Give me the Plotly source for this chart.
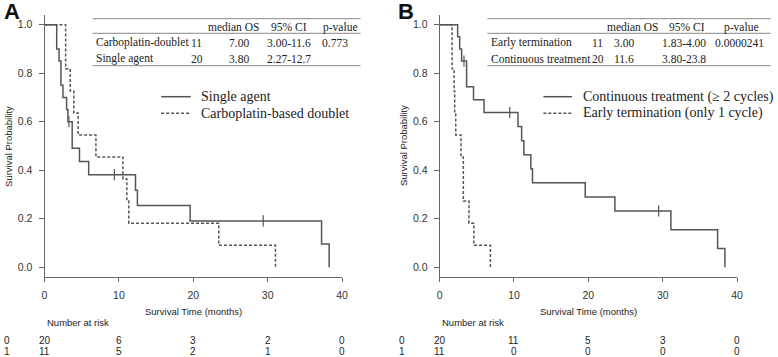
import numpy as np
import plotly.graph_objects as go

# ---------------- data ----------------
# Panel A: Single agent (n=20) vs Carboplatin-based doublet (n=11)
a_single_t = [0, 1.64, 1.95, 2.21, 2.48, 2.97, 3.15, 3.72, 4.70, 5.94, 12.23, 12.49, 19.58, 37.25, 38.27]
a_single_s = [1.0, 0.90, 0.85, 0.75, 0.70, 0.65, 0.60, 0.491, 0.436, 0.382, 0.318, 0.255, 0.191, 0.096, 0.0]
a_single_cens = [3.28, 9.39, 29.4]

a_doublet_t = [0, 2.84, 3.46, 3.94, 4.52, 6.91, 10.54, 11.07, 11.33, 23.43, 31.05]
a_doublet_s = [1.0, 0.818, 0.727, 0.636, 0.545, 0.455, 0.364, 0.273, 0.182, 0.091, 0.0]

# Panel B: Continuous treatment (n=20) vs Early termination (n=11)
b_cont_t = [0, 2.43, 2.70, 2.96, 3.63, 4.56, 5.98, 10.54, 11.03, 11.33, 12.27, 12.49, 19.58, 23.57, 31.10, 37.38, 38.36]
b_cont_s = [1.0, 0.95, 0.90, 0.85, 0.744, 0.691, 0.638, 0.580, 0.522, 0.464, 0.406, 0.348, 0.290, 0.232, 0.155, 0.077, 0.0]
b_cont_cens = [3.28, 9.43, 29.45]

b_early_t = [0, 1.68, 1.95, 2.03, 2.17, 2.88, 3.19, 3.95, 4.61, 6.83]
b_early_s = [1.0, 0.818, 0.727, 0.636, 0.545, 0.455, 0.273, 0.182, 0.091, 0.0]

risk_times = [0, 10, 20, 30, 40]
a_risk_0 = [20, 6, 3, 2, 0]
a_risk_1 = [11, 5, 2, 1, 0]
b_risk_0 = [20, 11, 5, 3, 0]
b_risk_1 = [11, 0, 0, 0, 0]

x_ticks = [0, 10, 20, 30, 40]
y_ticks = [0.0, 0.2, 0.4, 0.6, 0.8, 1.0]
y_ticklabels = ["0.0", "0.2", "0.4", "0.6", "0.8", "1.0"]

table_a_header = ["median OS", "95% CI", "p-value"]
table_a_rows = [["Carboplatin-doublet", "11", "7.00", "3.00-11.6", "0.773"],
                ["Single agent", "20", "3.80", "2.27-12.7", ""]]
table_b_header = ["median OS", "95% CI", "p-value"]
table_b_rows = [["Early termination", "11", "3.00", "1.83-4.00", "0.0000241"],
                ["Continuous treatment", "20", "11.6", "3.80-23.8", ""]]

legend_a = ["Single agent", "Carboplatin-based doublet"]
legend_b = ["Continuous treatment (\u2265 2 cycles)", "Early termination (only 1 cycle)"]

# ---------------- helpers ----------------
W, H = 778, 357
def px(x): return x / W
def py(y): return 1 - y / H

def step_val(t, s, c):
    idx = int(np.searchsorted(np.array(t), c, side="right")) - 1
    return s[idx]

LINE = "#555555"
AX = "#666666"
SANS = "Liberation Sans, Arial, sans-serif"
SERIF = "Liberation Serif, Times New Roman, serif"
TXT = "#222222"

fig = go.Figure()

def add_km(t, s, xa, ya, dash):
    fig.add_trace(go.Scatter(x=t, y=s, mode="lines", line=dict(shape="hv", color=LINE, width=1.5, dash=dash),
                             xaxis=xa, yaxis=ya, showlegend=False, hoverinfo="skip"))

def add_cens(t, s, cens, xa, ya):
    fig.add_trace(go.Scatter(x=cens, y=[step_val(t, s, c) for c in cens], mode="markers",
                             marker=dict(symbol="line-ns", size=8, line=dict(color=LINE, width=1.2)),
                             xaxis=xa, yaxis=ya, showlegend=False, hoverinfo="skip"))

add_km(a_single_t, a_single_s, "x", "y", "solid")
add_km(a_doublet_t, a_doublet_s, "x", "y", "3px,2px")
add_cens(a_single_t, a_single_s, a_single_cens, "x", "y")

add_km(b_cont_t, b_cont_s, "x2", "y2", "solid")
add_km(b_early_t, b_early_s, "x2", "y2", "3px,2px")
add_cens(b_cont_t, b_cont_s, b_cont_cens, "x2", "y2")

xax = dict(range=[0, 40], tickvals=x_ticks, showline=True, linecolor=AX, linewidth=1, ticks="outside",
           ticklen=4, tickcolor=AX, showgrid=False, zeroline=False,
           tickfont=dict(family=SANS, size=10.5, color="#333"), ticklabelstandoff=4)
yax = dict(range=[-0.04, 1.04], tickvals=y_ticks, ticktext=y_ticklabels, showline=True, linecolor=AX,
           linewidth=1, ticks="outside", ticklen=5, tickcolor=AX, showgrid=False, zeroline=False,
           tickfont=dict(family=SANS, size=10.5, color="#333"), ticklabelstandoff=4,
           domain=[py(277), py(15)])

fig.update_layout(
    width=W, height=H, margin=dict(l=0, r=0, t=0, b=0),
    paper_bgcolor="white", plot_bgcolor="white", showlegend=False,
    xaxis=dict(xax, domain=[px(42), px(343)]),
    yaxis=dict(yax, anchor="x"),
    xaxis2=dict(xax, domain=[px(441.7), px(742.7)], anchor="y2"),
    yaxis2=dict(yax, anchor="x2"),
)

ann = []
shapes = []

def text(x, y, s, size=10, family=SANS, xanchor="center", angle=0, bold=False, color=TXT, xref="paper"):
    ann.append(dict(x=(px(x) if xref == "paper" else x), y=py(y), xref=xref, yref="paper", text=(f"<b>{s}</b>" if bold else s),
                    showarrow=False, xanchor=xanchor, yanchor="middle", textangle=angle,
                    font=dict(family=family, size=size, color=color)))

def hline(x0, x1, y, color="#888", width=1, dash="solid"):
    shapes.append(dict(type="line", xref="paper", yref="paper", x0=px(x0), x1=px(x1), y0=py(y), y1=py(y),
                       line=dict(color=color, width=width, dash=dash)))

# panel letters
text(9, 11, "A", size=22, bold=True, color="#111")
text(408, 11, "B", size=22, bold=True, color="#111")

# axis titles
for off, xa in [(0, "x"), (399.7, "x2")]:
    text(192.5 + off, 311, "Survival Time (months)", size=9.5)
    text(42 + off, 322.7, "Number at risk", size=9.5, xanchor="left")
    text(5 + off, 146, "Survival Probability", size=9.5, angle=-90)

# number at risk
for off, xa, r0, r1 in [(0, "x", a_risk_0, a_risk_1), (399.7, "x2", b_risk_0, b_risk_1)]:
    text(4 + off, 340, "0", size=10)
    text(4 + off, 351.3, "1", size=10)
    for t, v0, v1 in zip(risk_times, r0, r1):
        text(t, 340, str(v0), size=10, xref=xa)
        text(t, 351.3, str(v1), size=10, xref=xa)

# tables
TS = 11.5
# Panel A
hline(90.7, 361.7, 18.7); hline(90.7, 361.7, 33.3); hline(90.7, 361.7, 65.7)
for s, x in zip(table_a_header, [233.7, 289.5, 341]):
    text(x, 27.3, s, size=TS, family=SERIF)
for row, y in zip(table_a_rows, [42.7, 58.7]):
    text(92, y, row[0], size=TS, family=SERIF, xanchor="left")
    for s, x in zip(row[1:], [196, 238.3, 289.5, 336]):
        text(x, y, s, size=TS, family=SERIF)
# Panel B
hline(490, 776.7, 18.7); hline(490, 776.7, 33.3); hline(490, 776.7, 65.7)
for s, x in zip(table_b_header, [637.2, 692.5, 746.7]):
    text(x, 27.3, s, size=TS, family=SERIF)
for row, y in zip(table_b_rows, [42.7, 58.7]):
    text(491.7, y, row[0], size=TS, family=SERIF, xanchor="left")
    for s, x in zip(row[1:], [601.7, 627.8, 689, 745.3]):
        text(x, y, s, size=TS, family=SERIF)

# legends
for (x0, x1, tx), labels in [((160, 190, 198), legend_a), ((546.7, 575.7, 584.3), legend_b)]:
    hline(x0, x1, 96.7, color=LINE, width=1.5)
    hline(x0, x1, 113.3, color=LINE, width=1.5, dash="3px,2px")
    text(tx, 96.7, labels[0], size=14, family=SERIF, xanchor="left")
    text(tx, 113.3, labels[1], size=14, family=SERIF, xanchor="left")

fig.update_layout(annotations=ann, shapes=shapes)
fig.write_html(
    "out.html",
    config={"responsive": False, "displayModeBar": False},
    post_script="document.body.style.margin='0';document.body.style.padding='0';document.body.style.overflow='hidden';document.documentElement.style.overflow='hidden';",
)
